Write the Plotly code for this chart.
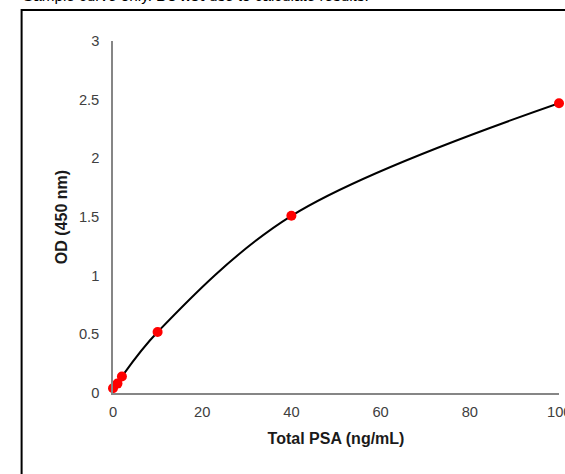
import plotly.graph_objects as go

# Data
conc = [0, 1, 2, 10, 40, 100]
od = [0.04, 0.08, 0.14, 0.52, 1.51, 2.47]
x_ticks = [0, 20, 40, 60, 80]
x_last_tick = 100
y_ticks = [0, 0.5, 1, 1.5, 2, 2.5, 3]
y_tick_text = ["0", "0.5", "1", "1.5", "2", "2.5", "3"]

W, H = 565, 474
L, R, T, B = 112.5, 6, 41, 81
pw, ph = W - L - R, H - T - B

def px2x(px):
    return (px - L) / pw

def py2y(py):
    return (H - B - py) / ph

FONT = "Liberation Sans, Arial, sans-serif"
TICKC = "#404040"
TICKF = 14.7
TITLEF = 16

fig = go.Figure()
fig.add_trace(go.Scatter(
    x=conc, y=od, mode="lines", line=dict(color="black", width=2, shape="spline", smoothing=1.0),
    hoverinfo="skip", showlegend=False, cliponaxis=False))
fig.add_trace(go.Scatter(
    x=conc, y=od, mode="markers", marker=dict(color="#ff0000", size=10),
    showlegend=False, cliponaxis=False))

fig.update_layout(
    width=W, height=H,
    margin=dict(l=L, r=R, t=T, b=B, pad=0),
    paper_bgcolor="white", plot_bgcolor="white",
    font=dict(family=FONT, size=TICKF, color=TICKC),
    xaxis=dict(range=[0, 100], tickvals=x_ticks, showgrid=False, zeroline=False,
               showline=True, linecolor="#868686", linewidth=1.5, ticks="",
               ticklabelstandoff=5, tickfont=dict(size=TICKF, color=TICKC),
               title=dict(text="<b>Total PSA (ng/mL)</b>", font=dict(size=TITLEF, color="#1a1a1a"), standoff=13)),
    yaxis=dict(range=[0, 3], tickvals=y_ticks, ticktext=y_tick_text, showgrid=False, zeroline=False,
               showline=True, linecolor="#868686", linewidth=1.5, ticks="",
               ticklabelstandoff=9, tickfont=dict(size=TICKF, color=TICKC),
               title=dict(text="<b>OD (450 nm)</b>", font=dict(size=TITLEF, color="#1a1a1a"), standoff=7)),
)

# last x tick label, cropped at the right edge as in the reference
fig.add_annotation(xref="x", yref="paper", x=x_last_tick, y=0, yanchor="top", yshift=-9,
                   showarrow=False, text=str(x_last_tick),
                   font=dict(family=FONT, size=TICKF, color=TICKC))

# outer border (partially cropped)
fig.add_shape(type="rect", xref="paper", yref="paper",
              x0=px2x(21), x1=px2x(620), y0=py2y(520), y1=py2y(10),
              line=dict(color="black", width=2), fillcolor="rgba(0,0,0,0)", layer="above")

# cropped caption text at top
fig.add_annotation(xref="paper", yref="paper", x=px2x(20), y=py2y(6),
                   xanchor="left", yanchor="bottom", showarrow=False,
                   text="Sample curve only. <b>Do not</b> use to calculate results.",
                   font=dict(family=FONT, size=15.3, color="black"))

fig.write_html("out.html", config={"displayModeBar": False},
               post_script="document.body.style.margin='0';document.body.style.overflow='hidden';")
